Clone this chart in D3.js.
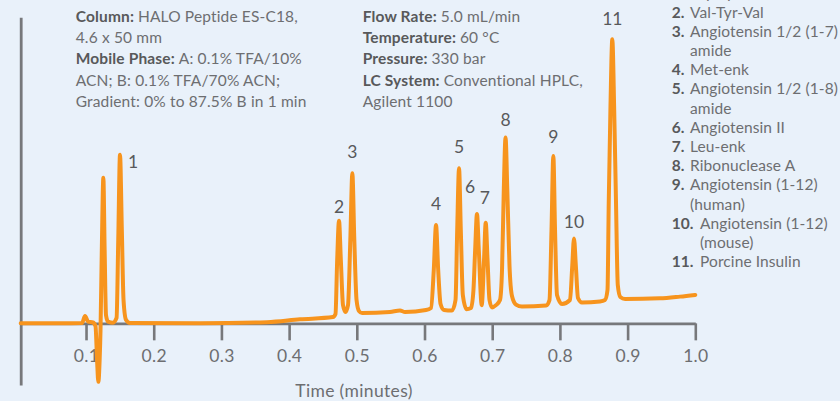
<!DOCTYPE html>
<html>
<head>
<meta charset="utf-8">
<script src="https://cdn.jsdelivr.net/npm/d3@7"></script>
<style>
  html, body { margin: 0; padding: 0; background: #e9f1fa; }
  svg { display: block; font-family: Lato, "Open Sans", sans-serif; }
</style>
</head>
<body>
<svg id="chart" width="840" height="401"></svg>
<script>
// trace: time (min) and detector signal (relative, peak 11 = 100)
const traceTime = [
  0.0035, 0.0616, 0.0941, 0.0985, 0.1030, 0.1103, 0.1140, 0.1163, 0.1182, 0.1201,
  0.1214, 0.1233, 0.1256, 0.1275, 0.1295, 0.1325, 0.1399, 0.1451, 0.1476, 0.1502,
  0.1529, 0.1554, 0.1591, 0.1650, 0.2684, 0.3674, 0.4161, 0.4648, 0.4685, 0.4710,
  0.4737, 0.4764, 0.4796, 0.4833, 0.4870, 0.4904, 0.4934, 0.4963, 0.4996, 0.5033,
  0.5077, 0.5490, 0.5638, 0.5712, 0.6022, 0.6096, 0.6137, 0.6170, 0.6202, 0.6237,
  0.6288, 0.6406, 0.6458, 0.6483, 0.6510, 0.6536, 0.6566, 0.6621, 0.6687, 0.6723,
  0.6748, 0.6775, 0.6802, 0.6845, 0.6879, 0.6904, 0.6931, 0.6960, 0.6997, 0.7056,
  0.7115, 0.7145, 0.7171, 0.7197, 0.7223, 0.7255, 0.7292, 0.7351, 0.7440, 0.7795,
  0.7846, 0.7876, 0.7903, 0.7928, 0.7957, 0.8031, 0.8149, 0.8183, 0.8208, 0.8235,
  0.8267, 0.8326, 0.8592, 0.8666, 0.8703, 0.8722, 0.8746, 0.8774, 0.8802, 0.8828,
  0.8855, 0.8892, 0.8962, 0.9478, 0.9774, 1.0000
];
const traceSignal = [
  0, 0, 0.1, 2.6, 0.6, 0.3, -1, -12.9, -20.6, -12.9,
  -2.4, 25.8, 51.2, 25.8, 2.9, 0.6, 0.2, 1.9, 29.3, 59.3,
  32.9, 8.2, 1.2, 0.1, 0, 0.4, 1.4, 2.2, 3.3, 22.3,
  36.1, 22.3, 6.4, 4.0, 6.4, 29.3, 52.8, 29.3, 8.2, 4.3,
  3.6, 4.0, 4.5, 4.0, 4.7, 5.4, 18.8, 34.6, 18.8, 6.8,
  4.7, 4.5, 8.2, 32.9, 54.6, 32.9, 10.0, 5.0, 5.4, 11.7,
  25.8, 38.5, 25.8, 6.4, 22.3, 35.4, 22.3, 8.2, 5.6, 6.4,
  8.2, 18.8, 46.9, 65.4, 46.9, 20.5, 9.6, 6.6, 5.9, 6.3,
  8.2, 32.9, 58.9, 32.9, 10.0, 6.8, 8.2, 20.5, 29.9, 20.5,
  8.9, 7.3, 7.7, 8.2, 11.7, 43.4, 75.1, 100, 75.1, 43.4,
  13.5, 9.3, 8.6, 8.8, 9.4, 10.0
];

// labelled peaks: apex time and height
const peakNames = ["1", "2", "3", "4", "5", "6", "7", "8", "9", "10", "11"];
const peakTime = [0.1502, 0.4737, 0.4934, 0.6170, 0.6510, 0.6775, 0.6904, 0.7197, 0.7903, 0.8208, 0.8774];
const peakHeight = [59.3, 36.1, 52.8, 34.6, 54.6, 38.5, 35.4, 65.4, 58.9, 29.9, 100];

const tickValues = [0.1, 0.2, 0.3, 0.4, 0.5, 0.6, 0.7, 0.8, 0.9, 1.0];

const compounds = [
  ["Gly-Tyr"],
  ["Val-Tyr-Val"],
  ["Angiotensin 1/2 (1-7)", "amide"],
  ["Met-enk"],
  ["Angiotensin 1/2 (1-8)", "amide"],
  ["Angiotensin II"],
  ["Leu-enk"],
  ["Ribonuclease A"],
  ["Angiotensin (1-12)", "(human)"],
  ["Angiotensin (1-12)", "(mouse)"],
  ["Porcine Insulin"]
];

const notesLeft = [
  ["Column:", "HALO Peptide ES-C18,"],
  ["", "4.6 x 50 mm"],
  ["Mobile Phase:", "A: 0.1% TFA/10%"],
  ["", "ACN; B: 0.1% TFA/70% ACN;"],
  ["", "Gradient: 0% to 87.5% B in 1 min"]
];
const notesMid = [
  ["Flow Rate:", "5.0 mL/min"],
  ["Temperature:", "60 °C"],
  ["Pressure:", "330 bar"],
  ["LC System:", "Conventional HPLC,"],
  ["", "Agilent 1100"]
];

// label offsets from each apex (layout only)
const labelDx = [13, 0, 0, 0, 0, -7, -1, 0, 0, 0, 0];
const labelDy = [-7, 14, 21.5, 21, 21, 27, 25, 18, 19, 17, 20];

const svg = d3.select(`#chart`);
const orange = `#f7941d`;
const axisGrey = `#77787b`;
const boldGrey = `#58595b`;
const textGrey = `#6d6e71`;

const x = d3.scaleLinear().domain([0.0035, 1.0]).range([20.7, 695.3]);
const y = d3.scaleLinear().domain([-21.7, 107.7]).range([385, 17.3]);

// x axis
const xAxis = svg.append(`g`)
  .attr(`transform`, `translate(0,${y(0)})`)
  .call(d3.axisBottom(x)
    .tickValues(tickValues)
    .tickFormat(d3.format(`.1f`))
    .tickSize(17)
    .tickSizeOuter(0)
    .tickPadding(9));
xAxis.select(`.domain`).attr(`stroke`, axisGrey).attr(`stroke-width`, 2.6);
xAxis.selectAll(`.tick line`).attr(`stroke`, axisGrey).attr(`stroke-width`, 2.6);
xAxis.selectAll(`.tick text`)
  .attr(`fill`, textGrey)
  .style(`font-size`, `17.5px`)
  .style(`letter-spacing`, `0.3px`)
  .style(`font-family`, `Lato, sans-serif`);

// y axis (no ticks)
const yAxis = svg.append(`g`)
  .attr(`transform`, `translate(${x(0.0035)},0)`)
  .call(d3.axisLeft(y).tickValues([]).tickSizeOuter(0));
yAxis.select(`.domain`).attr(`stroke`, axisGrey).attr(`stroke-width`, 2.8);

svg.append(`text`)
  .attr(`x`, 354)
  .attr(`y`, 397)
  .attr(`text-anchor`, `middle`)
  .attr(`fill`, textGrey)
  .style(`font-size`, `17.5px`)
  .style(`letter-spacing`, `0.35px`)
  .text(`Time (minutes)`);

// trace
const points = traceTime.map((t, i) => [t, traceSignal[i]]);
const line = d3.line()
  .x(d => x(d[0]))
  .y(d => y(d[1]))
  .curve(d3.curveMonotoneX);

svg.append(`path`)
  .datum(points)
  .attr(`d`, line)
  .attr(`fill`, `none`)
  .attr(`stroke`, orange)
  .attr(`stroke-width`, 4)
  .attr(`stroke-linejoin`, `round`)
  .attr(`stroke-linecap`, `round`);

// peak labels
svg.append(`g`)
  .selectAll(`text`)
  .data(peakNames)
  .enter().append(`text`)
    .attr(`x`, (d, i) => x(peakTime[i]) + labelDx[i])
    .attr(`y`, (d, i) => y(peakHeight[i]) - labelDy[i] + 6.3)
    .attr(`text-anchor`, `middle`)
    .attr(`fill`, boldGrey)
    .style(`font-size`, `17.5px`)
    .text(d => d);

// condition notes
const drawNotes = (rows, x0, y0, step) => {
  rows.forEach((r, i) => {
    const t = svg.append(`text`)
      .attr(`x`, x0)
      .attr(`y`, y0 + i * step)
      .style(`font-size`, `15.5px`)
      .style(`letter-spacing`, `0.15px`);
    if (r[0]) {
      t.append(`tspan`).attr(`fill`, boldGrey).style(`font-weight`, 700).text(r[0] + ` `);
    }
    t.append(`tspan`).attr(`fill`, textGrey).text(r[1]);
  });
};
drawNotes(notesLeft, 75.7, 22, 21.2);
drawNotes(notesMid, 362.7, 22, 21.2);

// compound list (first entry runs off the top, as in the source figure)
let row = 0;
compounds.forEach((lines, i) => {
  const num = `${i + 1}.`;
  const tx = i + 1 >= 10 ? 700 : 690;
  lines.forEach((txt, j) => {
    const yy = -6.9 + row * 19.2 + 5.3;
    if (j === 0) {
      svg.append(`text`)
        .attr(`x`, 671.7).attr(`y`, yy)
        .attr(`fill`, boldGrey)
        .style(`font-size`, `15.5px`).style(`font-weight`, 700)
        .text(num);
    }
    svg.append(`text`)
      .attr(`x`, tx).attr(`y`, yy)
      .attr(`fill`, textGrey)
      .style(`font-size`, `15.5px`)
      .style(`letter-spacing`, `0.1px`)
      .text(txt);
    row++;
  });
});
</script>
</body>
</html>
